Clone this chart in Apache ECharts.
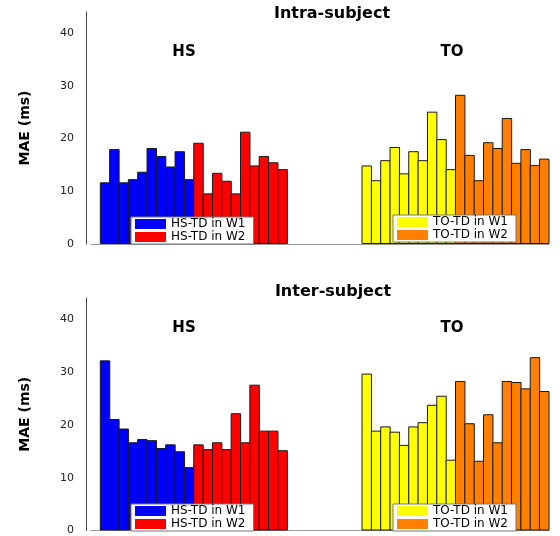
<!DOCTYPE html>
<html>
<head>
<meta charset="utf-8">
<script src="https://cdn.jsdelivr.net/npm/echarts@6/dist/echarts.min.js"></script>
<style>
  html, body { margin: 0; padding: 0; background: #fff; }
  #chart { width: 560px; height: 536px; }
</style>
</head>
<body>
<div id="chart"></div>
<script>
  // 图例名称
  var seriesNames = ['HS-TD in W1', 'HS-TD in W2', 'TO-TD in W1', 'TO-TD in W2'];
  var seriesColors = ['#0000ff', '#ff0000', '#ffff00', '#ff8000'];

  // Intra-subject MAE (ms)
  var intraHsW1 = [11.7, 18.0, 11.7, 12.3, 13.7, 18.2, 16.7, 14.7, 17.6, 12.3];
  var intraHsW2 = [19.2, 9.6, 13.5, 12.0, 9.6, 21.3, 14.9, 16.7, 15.5, 14.2];
  var intraToW1 = [14.9, 12.1, 15.9, 18.4, 13.4, 17.6, 15.9, 25.1, 19.9, 14.2];
  var intraToW2 = [28.3, 16.9, 12.1, 19.3, 18.2, 23.9, 15.4, 18.0, 15.0, 16.2];

  // Inter-subject MAE (ms)
  var interHsW1 = [32.2, 21.1, 19.3, 16.7, 17.3, 17.1, 15.6, 16.3, 15.0, 12.0];
  var interHsW2 = [16.3, 15.4, 16.7, 15.4, 22.2, 16.7, 27.6, 18.9, 18.9, 15.2];
  var interToW1 = [29.7, 18.9, 19.7, 18.7, 16.2, 19.7, 20.5, 23.8, 25.5, 13.4];
  var interToW2 = [28.3, 20.3, 13.2, 22.0, 16.7, 28.3, 28.1, 26.9, 32.8, 26.4];

  var yTicks = [0, 10, 20, 30, 40];

  // 每组起始柱位 (第0位留空)
  var groupStart = [1, 11, 29, 39];
  var slotCount = 49;

  // 类目 (空标签)
  var categories = [];
  for (var c = 0; c < slotCount; c++) categories.push('');

  var chart = echarts.init(document.getElementById('chart'));
  var font = 'DejaVu Sans';
  var gridLeft = 91, gridRight = 11, axisOffset = 5;

  function toSlots(values, start) {
    var out = [];
    for (var i = 0; i < slotCount; i++) out.push('-');
    for (var j = 0; j < values.length; j++) out[start + j] = values[j];
    return out;
  }

  function makeSeries(lists, axisIdx) {
    var out = [];
    for (var k = 0; k < lists.length; k++) {
      out.push({
        name: seriesNames[k],
        type: 'bar',
        xAxisIndex: axisIdx,
        yAxisIndex: axisIdx,
        stack: 'panel' + axisIdx,
        // 略宽于类目，相邻柱边框重叠，避免白缝
        barWidth: '112%',
        barCategoryGap: '0%',
        data: toSlots(lists[k], groupStart[k]),
        itemStyle: {
          color: seriesColors[k],
          borderColor: '#1a1a1a',
          borderWidth: 1
        }
      });
    }
    return out;
  }

  function yAxis(gridIdx) {
    return {
      type: 'value',
      gridIndex: gridIdx,
      min: 0,
      max: 44,
      interval: 10,
      offset: axisOffset,
      name: 'MAE (ms)',
      nameLocation: 'middle',
      nameGap: 54,
      nameTextStyle: { fontFamily: font, fontWeight: 'bold', fontSize: 14, color: '#000' },
      axisLine: { show: true, lineStyle: { color: '#444', width: 1 } },
      axisTick: { show: false },
      splitLine: { show: false },
      axisLabel: {
        fontFamily: font, fontSize: 11, color: '#222', margin: 12,
        showMaxLabel: false,
        formatter: function (v) { return yTicks.indexOf(v) >= 0 ? String(v) : ''; }
      }
    };
  }

  function xAxis(gridIdx) {
    return {
      type: 'category',
      gridIndex: gridIdx,
      data: categories,
      boundaryGap: true,
      axisLine: { show: true, onZero: false, lineStyle: { color: '#999', width: 1 } },
      axisTick: { show: false },
      axisLabel: { show: false },
      splitLine: { show: false }
    };
  }

  function legend(names, left, top) {
    return {
      data: names,
      left: left,
      top: top,
      orient: 'vertical',
      icon: 'rect',
      itemWidth: 31,
      itemHeight: 10,
      itemGap: 1,
      itemTextGap: 4,
      padding: [1, 8, 1, 4],
      backgroundColor: '#fff',
      borderColor: '#777',
      borderWidth: 1,
      borderRadius: 0,
      selectedMode: false,
      itemStyle: { borderWidth: 0 },
      textStyle: { fontFamily: font, fontSize: 12, color: '#000', lineHeight: 11 }
    };
  }

  function label(text, x, y, size) {
    return {
      type: 'text',
      x: x,
      y: y,
      style: {
        text: text,
        fontFamily: font,
        fontWeight: 'bold',
        fontSize: size,
        fill: '#000',
        textAlign: 'center',
        textVerticalAlign: 'middle'
      }
    };
  }

  var option = {
    animation: false,
    backgroundColor: '#fff',
    grid: [
      { left: gridLeft, right: gridRight, top: 12, height: 232 },
      { left: gridLeft, right: gridRight, top: 298, height: 233 }
    ],
    xAxis: [xAxis(0), xAxis(1)],
    yAxis: [yAxis(0), yAxis(1)],
    legend: [
      legend(seriesNames.slice(0, 2), 131, 217),
      legend(seriesNames.slice(2, 4), 393, 215),
      legend(seriesNames.slice(0, 2), 131, 504),
      legend(seriesNames.slice(2, 4), 393, 504)
    ],
    graphic: [
      label('Intra-subject', 332, 14, 16),
      label('HS', 184, 52, 15),
      label('TO', 452, 52, 15),
      label('Inter-subject', 333, 292, 16),
      label('HS', 184, 328, 15),
      label('TO', 452, 328, 15)
    ],
    series: makeSeries([intraHsW1, intraHsW2, intraToW1, intraToW2], 0)
      .concat(makeSeries([interHsW1, interHsW2, interToW1, interToW2], 1))
  };

  chart.setOption(option);
</script>
</body>
</html>
